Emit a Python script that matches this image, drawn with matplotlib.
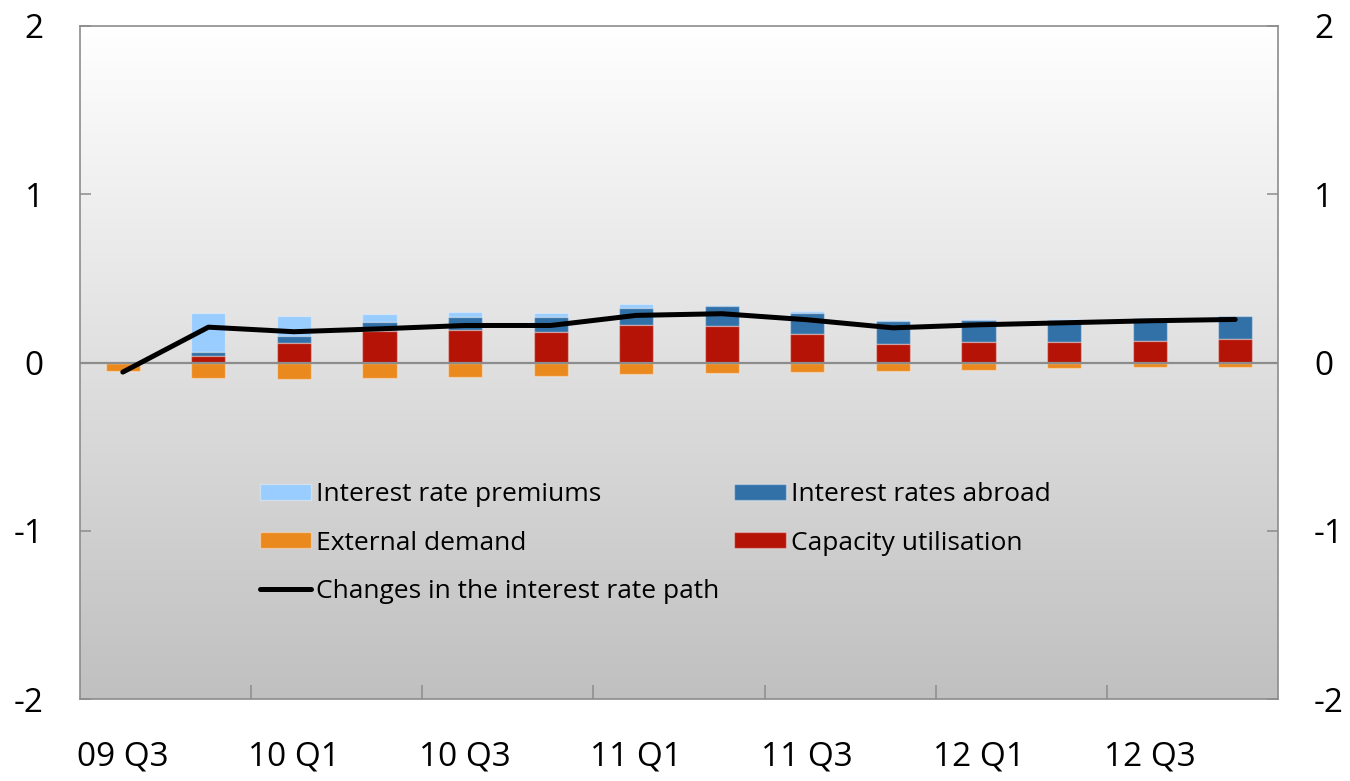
import numpy as np
import matplotlib.pyplot as plt
from matplotlib import font_manager
from matplotlib.colors import LinearSegmentedColormap

# Quarterly decomposition of changes in the interest rate path (percentage points)
quarters = ["09 Q3", "09 Q4", "10 Q1", "10 Q2", "10 Q3", "10 Q4", "11 Q1",
            "11 Q2", "11 Q3", "11 Q4", "12 Q1", "12 Q2", "12 Q3", "12 Q4"]
capacity = [0.0, 0.037, 0.117, 0.185, 0.196, 0.182, 0.222,
            0.218, 0.171, 0.111, 0.121, 0.121, 0.129, 0.139]
rates_abroad = [0.0, 0.026, 0.040, 0.054, 0.073, 0.087, 0.101,
                0.115, 0.123, 0.133, 0.129, 0.133, 0.135, 0.137]
premiums = [0.0, 0.230, 0.117, 0.052, 0.034, 0.024, 0.022,
            0.010, 0.012, 0.006, 0.006, 0.004, 0.003, 0.0]
external = [-0.05, -0.091, -0.097, -0.095, -0.089, -0.079, -0.071,
            -0.061, -0.054, -0.048, -0.042, -0.034, -0.028, -0.024]
path_change = [-0.057, 0.21, 0.183, 0.20, 0.22, 0.22, 0.28,
               0.29, 0.254, 0.206, 0.224, 0.236, 0.248, 0.256]

c_prem = "#99ccff"
c_abroad = "#3171a8"
c_cap = "#b41305"
c_ext = "#ea891e"

names = {f.name for f in font_manager.fontManager.ttflist}
family = "Open Sans" if "Open Sans" in names else "DejaVu Sans"
plt.rcParams["font.family"] = [family, "DejaVu Sans"]

fig = plt.figure(figsize=(13.5, 7.81), dpi=100)
ax = fig.add_axes([80 / 1350, 82 / 781, 1198 / 1350, 673 / 781])

# vertical grey gradient behind the plot area
grad = np.linspace(0, 1, 256).reshape(-1, 1)
ax.imshow(grad, extent=[0, 1, 0, 1], transform=ax.transAxes, aspect="auto",
          cmap=LinearSegmentedColormap.from_list("bg", ["#c0c0c0", "#ffffff"]),
          origin="lower", zorder=0)

x = np.arange(len(quarters))
w = 0.4
edge = dict(edgecolor=(1, 1, 1, 0.35), linewidth=1, zorder=2)
cap = np.array(capacity)
abr = np.array(rates_abroad)
ax.bar(x, premiums, w, bottom=cap + abr, color=c_prem,
       label="Interest rate premiums", **edge)
ax.bar(x, external, w, color=c_ext, label="External demand", **edge)
ax.bar(x, rates_abroad, w, bottom=cap, color=c_abroad,
       label="Interest rates abroad", **edge)
ax.bar(x, capacity, w, color=c_cap, label="Capacity utilisation", **edge)
ax.axhline(0, color="#8c8c8c", lw=1.6, zorder=3)
ax.plot(x, path_change, color="black", lw=3.6, solid_capstyle="round",
        label="Changes in the interest rate path", zorder=4)

ax.set_xlim(-0.5, len(quarters) - 0.5)
ax.set_ylim(-2, 2)
ax.set_yticks([-2, -1, 0, 1, 2])
ax.set_yticklabels(["-2", "-1", "0", "1", "2"])
ax.tick_params(axis="y", which="both", direction="in", length=8, width=1.1,
               color="#8c8c8c", labelsize=24, pad=26,
               left=True, right=True, labelleft=True, labelright=True)

# labels every second quarter, tick marks at the boundaries between pairs
ax.set_xticks(x[::2])
ax.set_xticklabels(quarters[::2])
ax.tick_params(axis="x", which="major", length=0, labelsize=24, pad=30)
ax.set_xticks(np.arange(1.5, len(quarters) - 1, 2), minor=True)
ax.tick_params(axis="x", which="minor", direction="in", length=10,
               width=1.1, color="#8c8c8c")

for s in ax.spines.values():
    s.set_color("#8c8c8c")
    s.set_linewidth(1.2)

h, l = ax.get_legend_handles_labels()
order = [1, 2, 0, 3, 4]  # premiums, external, line | abroad, capacity
ax.legend([h[i] for i in order], [l[i] for i in order], ncol=2,
          loc="upper left", bbox_to_anchor=(0.150, 0.322),
          frameon=False, fontsize=19, borderpad=0, borderaxespad=0,
          handlelength=1.95, handleheight=0.55, handletextpad=0.2,
          columnspacing=0.55, labelspacing=0.88)

fig.savefig("out.png", dpi=100)
